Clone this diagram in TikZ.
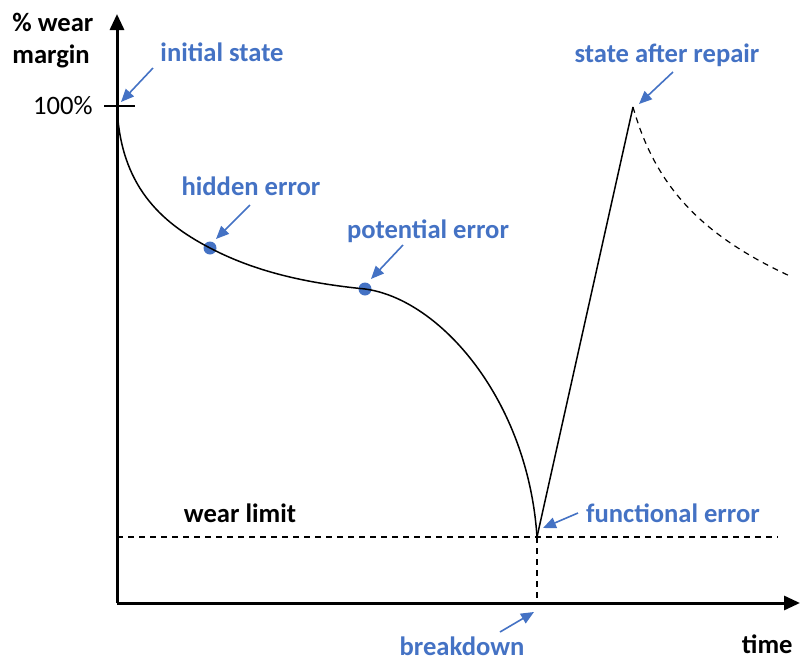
\documentclass[tikz,border=0pt]{standalone}
\usepackage{fontspec}
\setmainfont{Carlito}
\usepackage{xcolor}
\usetikzlibrary{arrows.meta, positioning}
\definecolor{noteblue}{RGB}{68,114,196}

\begin{document}
\begin{tikzpicture}[x=0.5pt, y=-0.5pt, font=\fontsize{13.3}{15}\selectfont]
    \tikzstyle{note} = [text=noteblue, font=\fontsize{13.3}{15}\selectfont\bfseries, inner sep=0pt]
    \tikzstyle{caption} = [text=black, font=\fontsize{13.3}{15}\selectfont\bfseries, inner sep=0pt]
    \tikzstyle{pointer} = [draw=noteblue, line width=0.8pt, -{Triangle[length=6.5pt, width=5.5pt]}]
    \tikzstyle{axis} = [line width=1.5pt, -{Triangle[length=8pt, width=7pt]}]
    \tikzstyle{curve} = [line width=0.75pt]
    \tikzstyle{guide} = [line width=0.6pt, dash pattern=on 3pt off 2.5pt]
    \tikzstyle{marker} = [circle, fill=noteblue, inner sep=0pt, minimum size=6.5pt]

    \useasboundingbox (0,0) rectangle (800,659);

    % axes
    \coordinate (origin) at (117,603);
    \coordinate (ytop) at (117,14);
    \coordinate (xend) at (800,603);
    \draw [axis] (origin) -- (ytop);
    \draw [axis] (origin) -- (xend);

    % 100% tick
    \coordinate (full) at (117,106);
    \draw [line width=0.6pt] (104,106) -- (135,106);
    \node (fulllabel) [left=12pt of full, inner sep=0pt] {100\%};

    % axis titles
    \node (ytitle) [caption, align=left, anchor=west] at (12,41) {\% wear\\[1pt]margin};
    \node (xtitle) [caption, anchor=east] at (793,644) {time};

    % wear curve
    \node (hidden) [marker] at (210,248) {};
    \node (potential) [marker] at (365,289) {};
    \coordinate (failure) at (537,537);
    \coordinate (repair) at (633,107);
    \draw [curve] (full) .. controls (120,185) and (160,222) .. (hidden.center)
        .. controls (255,271.5) and (305,283) .. (potential.center)
        .. controls (440,299) and (528,400) .. (failure);
    \draw [curve] (failure) -- (repair);
    \draw [curve, guide] (repair) .. controls (655,185) and (700,235) .. (792,277);

    % wear limit and breakdown
    \coordinate (limitstart) at (117,537);
    \coordinate (limitend) at (778,537);
    \coordinate (downfoot) at (537,603);
    \draw [guide] (limitstart) -- (limitend);
    \draw [guide] (failure) -- (downfoot);
    \node (limitlabel) [caption] at (240,513) {wear limit};

    % annotations
    \node (initial) [note] at (222,52) {initial state};
    \coordinate (initialtail) at (153,68);
    \draw [pointer] (initialtail) -- (121,102);

    \node (afterrepair) [note] at (667,55) {state after repair};
    \coordinate (repairtail) at (673,72);
    \draw [pointer] (repairtail) -- (639,104);

    \node (hiddenlabel) [note] at (251,186) {hidden error};
    \coordinate (hiddentail) at (250,205);
    \draw [pointer] (hiddentail) -- (216,239);

    \node (potentiallabel) [note] at (428,231) {potential error};
    \coordinate (potentialtail) at (403,245);
    \draw [pointer] (potentialtail) -- (371,279);

    \node (functional) [note] at (673,513) {functional error};
    \coordinate (functionaltail) at (578,513);
    \draw [pointer] (functionaltail) -- (543,528);

    \node (breakdown) [note] at (462,646) {breakdown};
    \coordinate (breakdowntail) at (500,632);
    \draw [pointer] (breakdowntail) -- (534,612);
\end{tikzpicture}
\end{document}
